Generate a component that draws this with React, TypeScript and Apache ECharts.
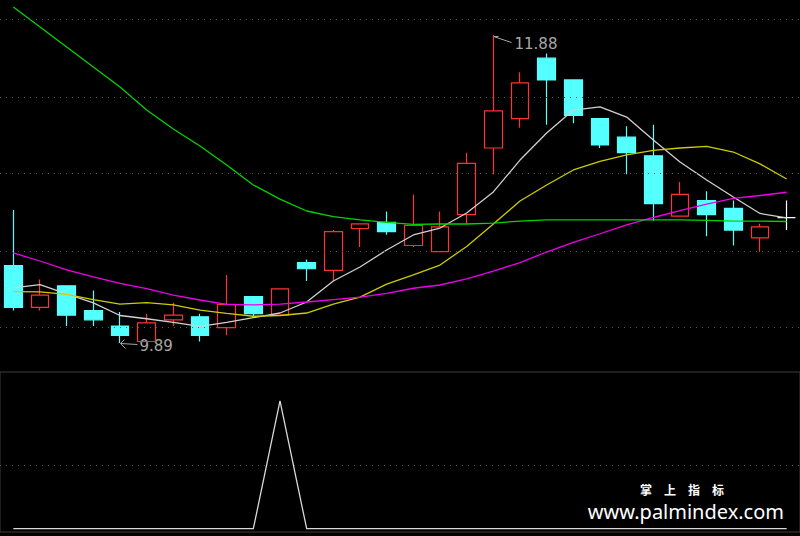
import React, { useEffect, useRef } from "react";
import * as echarts from "echarts";

const categories = ["1","2","3","4","5","6","7","8","9","10","11","12","13","14","15","16","17","18","19","20","21","22","23","24","25","26","27","28","29","30"];

const openP  = [10.39,10.12,10.26,10.10,10.00, 9.90,10.04,10.06, 9.99,10.19,10.07,10.41,10.36,10.63,10.67,10.52,10.48,10.72,11.15,11.34,11.73,11.59,11.34,11.22,11.10,10.71,10.81,10.76,10.57,10.70];
const closeP = [10.12,10.20,10.07,10.04, 9.94,10.02,10.07, 9.94,10.14,10.08,10.24,10.37,10.61,10.66,10.61,10.65,10.64,11.05,11.39,11.57,11.59,11.36,11.17,11.12,10.79,10.85,10.72,10.62,10.64,10.70];
const lowP   = [10.10,10.10,10.00,10.00, 9.89, 9.90,10.00, 9.90, 9.94,10.06,10.07,10.29,10.29,10.51,10.59,10.51,10.48,10.66,10.98,11.28,11.30,11.31,11.15,10.98,10.68,10.71,10.58,10.52,10.48,10.62];
const highP  = [10.75,10.30,10.26,10.23,10.09,10.08,10.15,10.08,10.33,10.19,10.24,10.43,10.62,10.66,10.74,10.85,10.74,11.12,11.88,11.64,11.76,11.59,11.34,11.29,11.30,10.93,10.87,10.81,10.66,10.81];

const ma5  = [10.246,10.268,10.207,10.149,10.068,10.047,10.024, 9.997,10.023,10.054,10.084,10.155,10.291,10.381,10.491,10.588,10.633,10.730,10.866,11.072,11.247,11.395,11.415,11.350,11.202,11.060,10.943,10.833,10.727,10.698];
const ma10 = [10.222,10.220,10.204,10.171,10.142,10.151,10.136,10.103,10.082,10.063,10.068,10.084,10.142,10.187,10.271,10.330,10.394,10.514,10.659,10.808,10.911,11.008,11.063,11.105,11.134,11.150,11.160,11.124,11.047,10.950];
const ma20 = [10.472,10.420,10.362,10.317,10.275,10.242,10.200,10.168,10.140,10.136,10.142,10.155,10.171,10.187,10.211,10.244,10.265,10.304,10.355,10.410,10.478,10.540,10.596,10.654,10.701,10.746,10.788,10.824,10.843,10.864];
const ma60 = [12.061,11.932,11.802,11.673,11.544,11.395,11.273,11.163,11.040,10.911,10.820,10.743,10.707,10.685,10.669,10.656,10.659,10.659,10.665,10.678,10.685,10.685,10.685,10.685,10.685,10.685,10.682,10.678,10.678,10.675];

const signal = [0,0,0,0,0,0,0,0,0,0,1,0,0,0,0,0,0,0,0,0,0,0,0,0,0,0,0,0,0,0];

const priceGridLevels = [11.98, 11.48, 10.99, 10.48, 9.99];
const signalGridLevels = [0.5];

const watermarkTitle = "掌　上　指　标";
const watermarkUrl = "www.palmindex.com";

const UP = "#ff3232";
const DOWN = "#54ffff";
const LABEL = "#a8a8a8";

export default function App() {
  const ref = useRef<HTMLDivElement>(null);
  useEffect(() => {
    const chart = echarts.init(ref.current!, null, { renderer: "svg" });
    const candleData = categories.map((_, i) => {
      const item: any = { value: [openP[i], closeP[i], lowP[i], highP[i]] };
      if (openP[i] === closeP[i]) {
        item.itemStyle = { borderColor: "#ffffff", borderColor0: "#ffffff", borderColorDoji: "#ffffff", color: "#ffffff", color0: "#ffffff" };
      }
      return item;
    });
    const dotted = { color: "#555555", type: [1, 5], width: 1 };
    const lineSeries = (data: number[], color: string) => ({
      type: "line",
      data,
      xAxisIndex: 0,
      yAxisIndex: 0,
      symbol: "none",
      smooth: false,
      lineStyle: { color, width: 1.3 },
      silent: true,
    });
    chart.setOption({
      animation: false,
      backgroundColor: "#000000",
      grid: [
        { left: -2, right: -2, top: 0, height: 371, show: false },
        { left: -2, right: -2, top: 372, height: 160, show: true, borderColor: "#3c3c3c", borderWidth: 1, backgroundColor: "transparent" },
      ],
      xAxis: [
        { type: "category", data: categories, gridIndex: 0, boundaryGap: true, show: false },
        { type: "category", data: categories, gridIndex: 1, boundaryGap: true, show: false },
      ],
      yAxis: [
        { type: "value", gridIndex: 0, min: 9.7094, max: 12.106, show: false, splitLine: { show: false } },
        { type: "value", gridIndex: 1, min: -0.0258, max: 1.227, show: false, splitLine: { show: false } },
      ],
      series: [
        {
          type: "candlestick",
          data: candleData,
          xAxisIndex: 0,
          yAxisIndex: 0,
          barWidth: 18,
          silent: true,
          itemStyle: {
            color: "transparent",
            color0: DOWN,
            borderColor: UP,
            borderColor0: DOWN,
            borderColorDoji: "#ffffff",
            borderWidth: 1.2,
          },
          markLine: {
            silent: true,
            symbol: ["none", "none"],
            label: { show: false },
            lineStyle: dotted,
            data: priceGridLevels.map((v) => ({ yAxis: v })),
          },
        },
        lineSeries(ma5, "#d0d0d0"),
        lineSeries(ma10, "#cccc00"),
        lineSeries(ma20, "#ee00ee"),
        lineSeries(ma60, "#00d400"),
        {
          type: "line",
          data: signal,
          xAxisIndex: 1,
          yAxisIndex: 1,
          symbol: "none",
          lineStyle: { color: "#d8d8d8", width: 1.3 },
          silent: true,
          markLine: {
            silent: true,
            symbol: ["none", "none"],
            label: { show: false },
            lineStyle: dotted,
            data: signalGridLevels.map((v) => ({ yAxis: v })),
          },
        },
      ],
    });

    let hiIdx = 0;
    let loIdx = 0;
    for (let i = 1; i < highP.length; i++) {
      if (highP[i] > highP[hiIdx]) hiIdx = i;
      if (lowP[i] < lowP[loIdx]) loIdx = i;
    }
    const hp = chart.convertToPixel({ gridIndex: 0 } as any, [hiIdx, highP[hiIdx]]) as number[];
    const lp = chart.convertToPixel({ gridIndex: 0 } as any, [loIdx, lowP[loIdx]]) as number[];
    const hx = Math.round(hp[0]) + 0.5;
    const hy = Math.round(hp[1]) + 1.5;
    const lx = Math.round(lp[0]) + 0.5;
    const ly = Math.round(lp[1]) + 0.5;
    const font = '15px "DejaVu Sans"';
    chart.setOption({
      graphic: [
        { type: "polyline", silent: true, shape: { points: [[hx + 5, hy], [hx, hy], [hx, hy + 5]] }, style: { stroke: LABEL, fill: null, lineWidth: 1 } },
        { type: "line", silent: true, shape: { x1: hx, y1: hy, x2: hx + 18, y2: hy + 6 }, style: { stroke: LABEL, lineWidth: 1 } },
        { type: "text", silent: true, x: hx + 21, y: hy + 7, style: { text: highP[hiIdx].toFixed(2), fill: LABEL, font, verticalAlign: "middle", align: "left" } },
        { type: "polyline", silent: true, shape: { points: [[lx + 4, ly - 4], [lx, ly], [lx + 5, ly + 5]] }, style: { stroke: LABEL, fill: null, lineWidth: 1 } },
        { type: "line", silent: true, shape: { x1: lx, y1: ly, x2: lx + 17, y2: ly + 1 }, style: { stroke: LABEL, lineWidth: 1 } },
        { type: "text", silent: true, x: lx + 19, y: ly + 2.5, style: { text: lowP[loIdx].toFixed(2), fill: LABEL, font, verticalAlign: "middle", align: "left" } },
        { type: "text", silent: true, x: 682, y: 489, style: { text: watermarkTitle, fill: "#ffffff", font: 'bold 12px "Noto Sans CJK SC"', align: "center", verticalAlign: "middle" } },
        { type: "text", silent: true, x: 784, y: 511.5, style: { text: watermarkUrl, fill: "#ffffff", font: '20px "Noto Sans"', align: "right", verticalAlign: "middle" } },
      ],
    });
    return () => chart.dispose();
  }, []);
  return <div ref={ref} style={{ position: "fixed", left: 0, top: 0, width: 800, height: 536, background: "#000" }} />;
}
